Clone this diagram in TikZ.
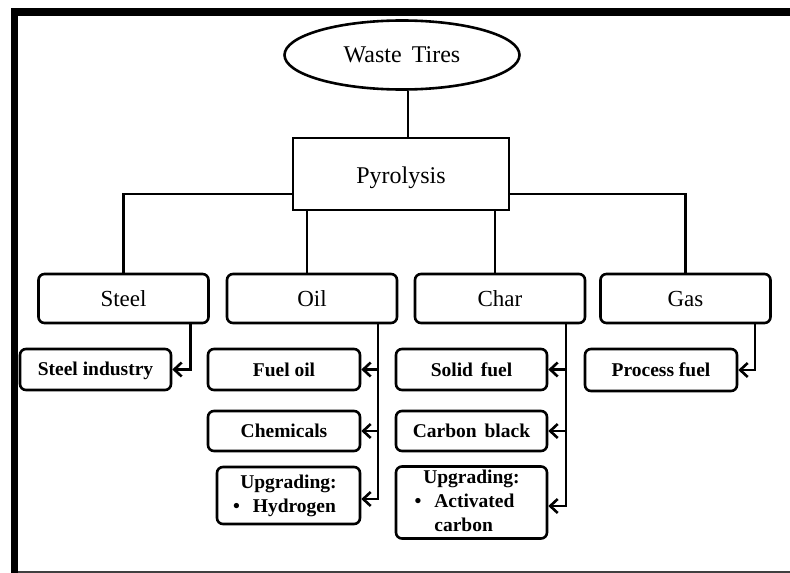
\documentclass[tikz,border=0pt]{standalone}
\usepackage{fontspec}
\setmainfont{Liberation Serif}
\usetikzlibrary{shapes.geometric,arrows.meta}

\begin{document}
\begin{tikzpicture}[x=1pt,y=-1pt,
  stroke/.style={line width=2.6pt},
  mainbox/.style={draw,stroke,fill=white,inner sep=0pt,font=\fontsize{24}{28}\selectfont},
  catbox/.style={draw,stroke,rounded corners=6pt,minimum width=170pt,minimum height=49pt,
    inner sep=0pt,font=\fontsize{23}{27}\selectfont},
  prodbox/.style={draw,stroke,rounded corners=6pt,minimum width=151pt,minimum height=41pt,
    inner sep=0pt,font=\bfseries\fontsize{19.5}{24}\selectfont},
  link/.style={stroke},
  feed/.style={stroke,-{Straight Barb[length=7.5pt,width=14pt,line width=2.6pt]}},
]
\useasboundingbox (0,0) rectangle (790,573);

% page frame: heavy top and left rules, thin rule at the bottom
\fill (11,8) rectangle (790,16);
\fill (11,8) rectangle (18,573);
\draw[line width=1.5pt,black!75] (18,572) -- (790,572);

% source and process
\node[mainbox,ellipse,minimum width=235pt,minimum height=69pt] (wt) at (402,55)
  {Waste\hspace{0.42em}Tires};
\node[mainbox,rectangle,minimum width=216pt,minimum height=72pt] (pyr) at (401,174)
  {\raisebox{-4pt}[\height][\depth]{Pyrolysis}};

% pyrolysis products
\node[catbox] (steel) at (123.5,298.5) {Steel};
\node[catbox] (oil)   at (312,298.5)   {Oil};
\node[catbox] (char)  at (500,298.5)   {Char};
\node[catbox] (gas)   at (685.5,298.5) {Gas};

% uses
\node[prodbox] (steelind) at (95.5,369.5) {\raisebox{-1.5pt}[\height][\depth]{Steel industry}};
\node[prodbox,minimum width=152pt] (fueloil) at (284,369.5) {Fuel oil};
\node[prodbox,minimum width=152pt,minimum height=40pt] (chem) at (284,431) {Chemicals};
\node[prodbox,minimum width=143pt,minimum height=57pt] (hyd) at (288.5,495.5)
  {\begin{tabular}{@{}l@{\hspace{13pt}}l@{\hspace{8pt}}}
    \multicolumn{2}{@{}c@{}}{Upgrading:}\\
    \textbullet & Hydrogen
   \end{tabular}};
\node[prodbox] (solid) at (471.5,369.5) {Solid\hspace{0.4em}fuel};
\node[prodbox,minimum height=40pt] (cblack) at (471.5,431) {Carbon\hspace{0.4em}black};
\node[prodbox,minimum height=71pt] (actc) at (471.5,502.5)
  {\begin{tabular}{@{}l@{\hspace{13pt}}l@{\hspace{14pt}}}
    \multicolumn{2}{@{}c@{}}{Upgrading:}\\
    \textbullet & Activated\\
                & carbon
   \end{tabular}};
\node[prodbox,minimum width=152pt,minimum height=42pt] (procf) at (661,370) {Process fuel};

% tree connectors
\draw[link] ([xshift=6pt]wt.south) -- ([xshift=6pt]wt.south |- pyr.north);
\draw[link] ([yshift=-20pt]pyr.west) -| (steel.north);
\draw[link] ([yshift=-20pt]pyr.east) -| (gas.north);
\draw[link] ([xshift=-5pt]oil.north) -- ([xshift=-5pt]oil.north |- pyr.south);
\draw[link] ([xshift=-5pt]char.north) -- ([xshift=-5pt]char.north |- pyr.south);

% feeds into the uses
\draw[feed] ([xshift=67pt]steel.south) |- (steelind.east);

\draw[feed] ([xshift=66pt]oil.south) coordinate (ot) |- ([yshift=-3.5pt]hyd.east);
\draw[feed] (ot |- fueloil.east) -- (fueloil.east);
\draw[feed] (ot |- chem.east) -- (chem.east);

\draw[feed] ([xshift=66pt]char.south) coordinate (ct) |- ([yshift=-3.5pt]actc.east);
\draw[feed] (ct |- solid.east) -- (solid.east);
\draw[feed] (ct |- cblack.east) -- (cblack.east);

\draw[feed] ([xshift=69.5pt]gas.south) |- (procf.east);
\end{tikzpicture}
\end{document}
